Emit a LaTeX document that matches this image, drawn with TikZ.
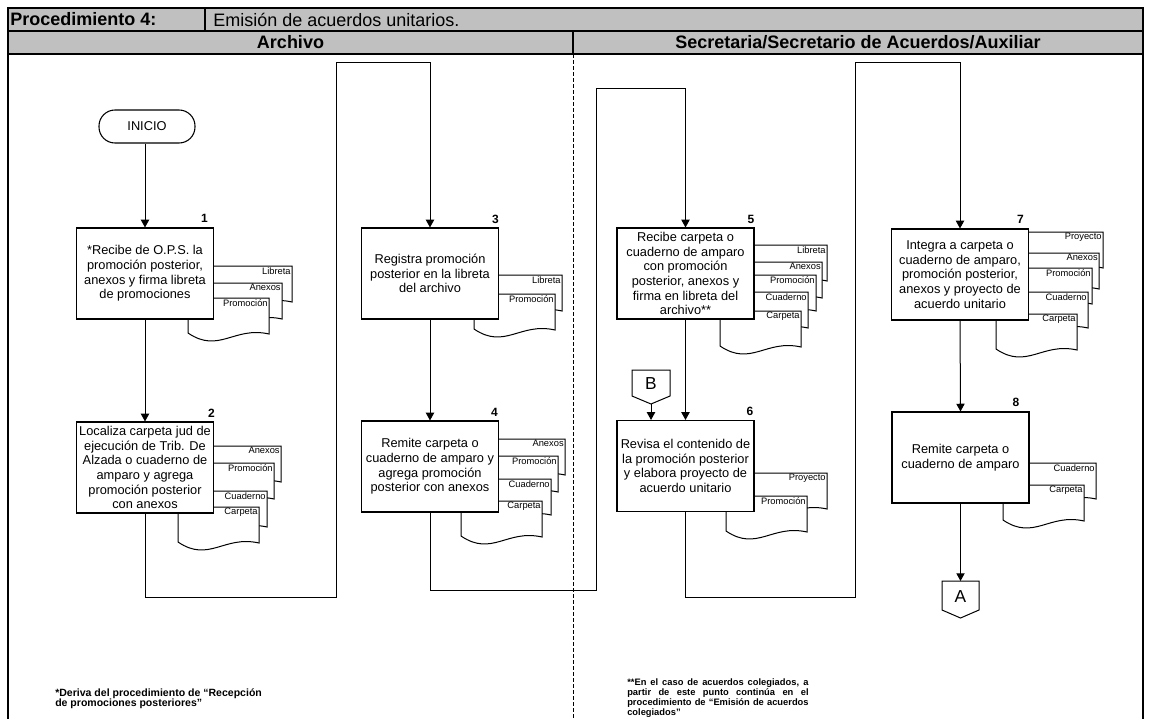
\documentclass[tikz,border=0pt]{standalone}
\usepackage{fontspec}
\setmainfont{Liberation Sans}
\usetikzlibrary{arrows.meta,calc}

\definecolor{hdrgray}{RGB}{192,192,192}

\tikzset{
  frame/.style={line width=0.9pt},
  hdr/.style={inner sep=0pt, font=\fontsize{13.5}{16}\selectfont},
  proc/.style={draw, line width=0.8pt, fill=white, minimum width=102.75pt,
    minimum height=68.25pt, align=center, inner sep=1pt,
    font=\fontsize{9.6}{11}\selectfont},
  num/.style={anchor=south east, inner sep=0pt, font=\bfseries\fontsize{9}{10}\selectfont},
  flow/.style={line width=0.75pt, -{Triangle[width=6.2pt,length=5.8pt]}},
  offpage/.style={line width=0.75pt, fill=white},
  letter/.style={inner sep=0pt, font=\fontsize{13}{15}\selectfont},
  foot/.style={inner sep=0pt, font=\bfseries\fontsize{7.9}{7.6}\selectfont},
  footb/.style={inner sep=0pt, font=\bfseries\fontsize{7}{7.6}\selectfont},
  doclabel/.style={anchor=north east, inner sep=0.8pt, font=\fontsize{7}{8}\selectfont},
  docu/.pic={
    \filldraw[fill=white, line width=0.75pt] (0,0) -- (0,36)
      .. controls (-35,28) and (-50,56) .. (-81,35) -- (-81,0) -- cycle;
    \node[doclabel] (-lbl) at (0,0) {#1};
  },
}

\begin{document}
\begin{tikzpicture}[x=0.75pt,y=-0.75pt]
\useasboundingbox (0,0) rectangle (1152,718);

% ---- header table ----
\fill[hdrgray] (8,8) rectangle (1143,54);
\draw[frame] (8,722) -- (8,8) -- (1143,8) -- (1143,722);
\draw[frame] (8,31) -- (1143,31);
\draw[frame] (8,54) -- (1143,54);
\draw[frame] (205,8) -- (205,31);
\draw[frame] (573,31) -- (573,54);
\draw[line width=0.6pt, dash pattern=on 3pt off 1.5pt] (573,54) -- (573,722);

\node[hdr, anchor=west] (proc) at (10,19.5) {\bfseries Procedimiento 4:};
\node[hdr, anchor=west] (title) at (213,19.5) {Emisión de acuerdos unitarios.};
\node[hdr] (lane1) at (290.5,42.5) {\bfseries Archivo};
\node[hdr] (lane2) at (858,42.5) {\bfseries Secretaria/Secretario de Acuerdos/Auxiliar};

% ---- document stacks (back to front) ----
\pic (d1a) at (292,266) {docu=Libreta};
\pic (d1b) at (282,283) {docu=Anexos};
\pic (d1c) at (269,298) {docu=Promoción};

\pic (d2a) at (281,446) {docu=Anexos};
\pic (d2b) at (274,463) {docu=Promoción};
\pic (d2c) at (267,491) {docu=Cuaderno};
\pic (d2d) at (259,507) {docu=Carpeta};

\pic (d3a) at (562,275) {docu=Libreta};
\pic (d3b) at (555,294) {docu=Promoción};

\pic (d4a) at (565,439) {docu=Anexos};
\pic (d4b) at (558,456) {docu=Promoción};
\pic (d4c) at (551,479) {docu=Cuaderno};
\pic (d4d) at (542,501) {docu=Carpeta};

\pic (d5a) at (827,245) {docu=Libreta};
\pic (d5b) at (822,262) {docu=Anexos};
\pic (d5c) at (816,275) {docu=Promoción};
\pic (d5d) at (808,292) {docu=Cuaderno};
\pic (d5e) at (801,311) {docu=Carpeta};

\pic (d6a) at (827,473) {docu=Proyecto};
\pic (d6b) at (807,496) {docu=Promoción};

\pic (d7a) at (1103,232) {docu=Proyecto};
\pic (d7b) at (1099,253) {docu=Anexos};
\pic (d7c) at (1092,268) {docu=Promoción};
\pic (d7d) at (1088,292) {docu=Cuaderno};
\pic (d7e) at (1077,314) {docu=Carpeta};

\pic (d8a) at (1096,463) {docu=Cuaderno};
\pic (d8b) at (1084,485) {docu=Carpeta};

% ---- start terminal ----
\node[draw, line width=0.8pt, rounded corners=12pt, minimum width=72pt,
  minimum height=24.75pt, font=\fontsize{9.6}{11}\selectfont] (ini) at (147,126.5) {INICIO};

% ---- process steps ----
\node[proc] (b1) at (145,273.5) {*Recibe de O.P.S. la\\promoción posterior,\\anexos y firma libreta\\de promociones};
\node[proc] (b2) at (145,467.5) {Localiza carpeta jud de\\ejecución de Trib. De\\Alzada o cuaderno de\\amparo y agrega\\promoción posterior\\con anexos};
\node[proc] (b3) at (430,273.5) {Registra promoción\\posterior en la libreta\\del archivo};
\node[proc] (b4) at (430,466.5) {Remite carpeta o\\cuaderno de amparo y\\agrega promoción\\posterior con anexos};
\node[proc] (b5) at (685.5,273.5) {Recibe carpeta o\\cuaderno de amparo\\con promoción\\posterior, anexos y\\firma en libreta del\\archivo**};
\node[proc] (b6) at (685.5,466) {Revisa el contenido de\\la promoción posterior\\y elabora proyecto de\\acuerdo unitario};
\node[proc] (b7) at (960,274.5) {Integra a carpeta o\\cuaderno de amparo,\\promoción posterior,\\anexos y proyecto de\\acuerdo unitario};
\node[proc] (b8) at (960.5,457.5) {Remite carpeta o\\cuaderno de amparo};

% ---- step numbers ----
\node[num] (n1) at ($(b1.north east)+(-6,-5)$) {1};
\node[num] (n2) at ($(b2.north east)+(1,-4)$) {2};
\node[num] (n3) at ($(b3.north east)+(0,-4)$) {3};
\node[num] (n4) at ($(b4.north east)+(-1,-4)$) {4};
\node[num] (n5) at ($(b5.north east)+(0,-4)$) {5};
\node[num] (n6) at ($(b6.north east)+(-1,-4)$) {6};
\node[num] (n7) at ($(b7.north east)+(-5,-5)$) {7};
\node[num] (n8) at ($(b8.north east)+(-10,-5)$) {8};

% ---- off-page connectors ----
\draw[offpage] (632,370) -- (670,370) -- (670,396) -- (651,404) -- (632,396) -- cycle;
\node[letter] (B) at (651,384) {B};
\coordinate (Bpt) at (651,404);

\draw[offpage] (942,581) -- (979,581) -- (979,610) -- (960.5,618) -- (942,610) -- cycle;
\node[letter] (A) at (960.5,597) {A};
\coordinate (Atop) at (960.5,581);

% ---- flow ----
\coordinate (r1a) at (336,597);
\coordinate (r1b) at (336,62);
\coordinate (r2a) at (596,590);
\coordinate (r2b) at (596,88);
\coordinate (r3a) at (855,597);
\coordinate (r3b) at (855,62);

\draw[flow] (b1.north |- ini.south) -- (b1.north);
\draw[flow] (b1.south) -- (b2.north);
\draw[flow] (b2.south) |- (r1a) -- (r1b) -| (b3.north);
\draw[flow] (b3.south) -- (b4.north);
\draw[flow] (b4.south) |- (r2a) -- (r2b) -| (b5.north);
\draw[flow] (b5.south) -- (b6.north);
\draw[flow] (Bpt) -- (Bpt |- b6.north);
\draw[flow] (b6.south) |- (r3a) -- (r3b) -| (b7.north);
\draw[flow] (b7.south) -- (b8.north);
\draw[flow] (b8.south) -- (Atop);

% ---- footnotes ----
\node[foot, anchor=base west] (fn1) at (55,696) {\parbox[t]{220pt}{*Deriva del procedimiento de “Recepción\\de promociones posteriores”}};
\node[footb, anchor=base west] (fn2) at (627,685) {\parbox[t]{136pt}{%
  \makebox[136pt][s]{**En el caso de acuerdos colegiados, a}\\
  \makebox[136pt][s]{partir de este punto continúa en el}\\
  \makebox[136pt][s]{procedimiento de “Emisión de acuerdos}\\
  colegiados”}};

\end{tikzpicture}
\end{document}
